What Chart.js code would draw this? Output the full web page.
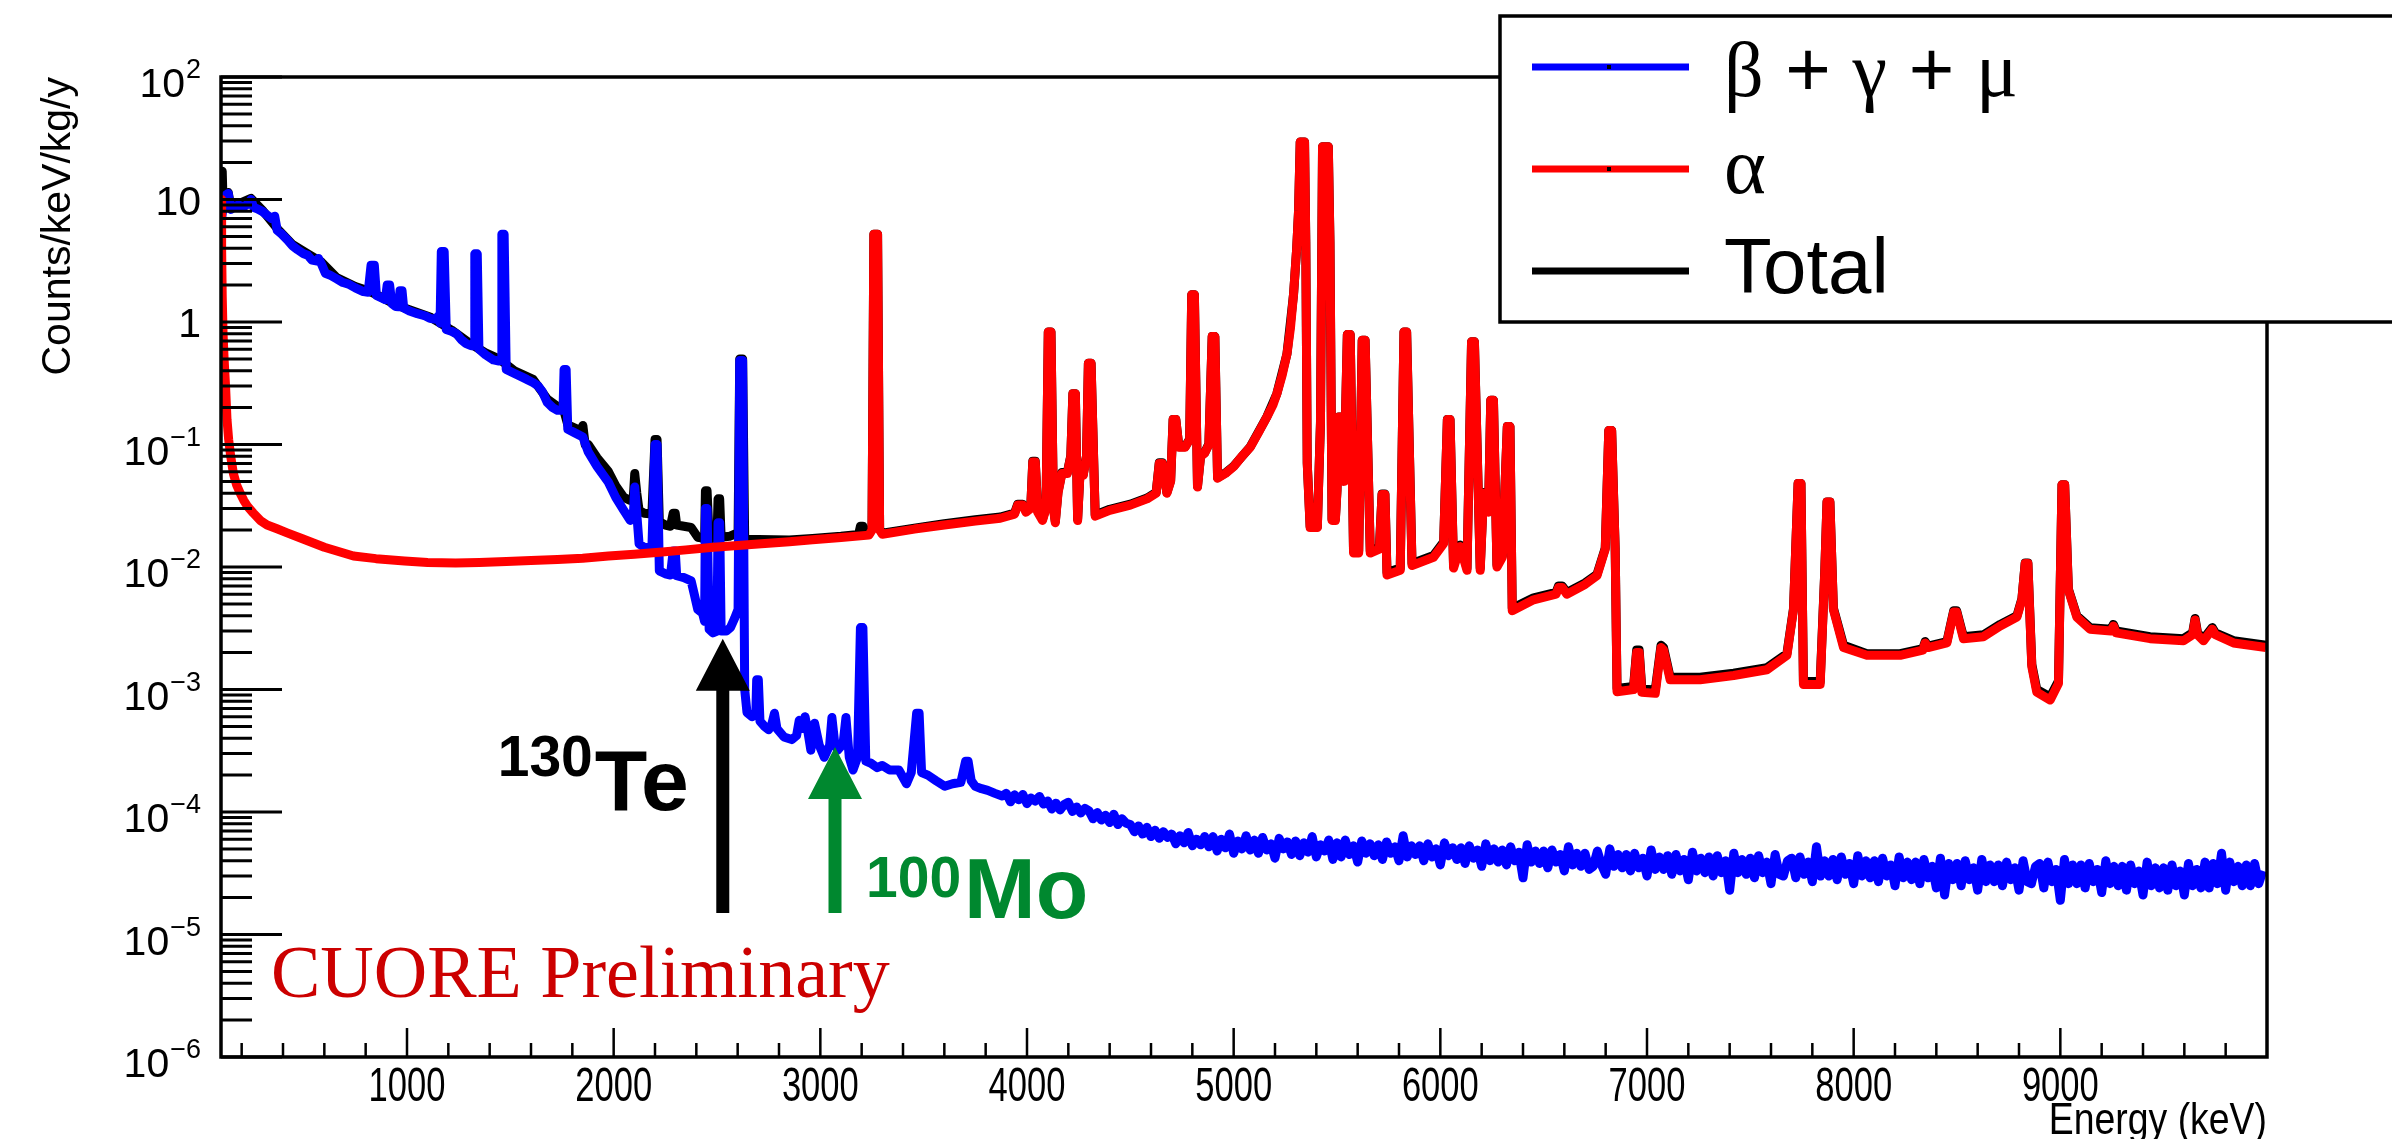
<!DOCTYPE html>
<html>
<head>
<meta charset="utf-8">
<script src="https://cdn.jsdelivr.net/npm/chart.js@4.4.1/dist/chart.umd.min.js"></script>
<style>
  html, body { margin: 0; padding: 0; background: #fff; }
  canvas { display: block; }
</style>
</head>
<body>
<canvas id="spectrum" width="2392" height="1139"></canvas>
<script>
// energy (keV), counts/keV/kg/y
const betaPts = [
  [100, 6.5], [110, 8.5], [122, 10.8], [135, 11.2], [148, 8.3], [165, 8.8], [185, 9.0], [210, 8.7],
  [230, 9.2], [245, 10.0], [258, 8.6], [275, 8.4], [300, 8.0], [325, 7.4], [345, 7.0], [360, 7.3],
  [372, 5.6], [395, 5.2], [420, 4.7], [445, 4.2], [470, 3.9], [500, 3.6], [520, 3.5], [540, 3.2],
  [560, 3.15], [572, 3.3], [585, 3.0], [605, 2.5], [630, 2.4], [660, 2.25], [690, 2.1], [717, 2.04],
  [750, 1.9], [789, 1.77], [812, 1.75], [826, 2.9], [842, 2.9], [852, 1.65], [875, 1.58], [895, 1.52],
  [904, 2.0], [916, 2.0], [926, 1.42], [945, 1.34], [960, 1.33], [966, 1.8], [976, 1.8], [984, 1.3],
  [1012, 1.23], [1050, 1.17], [1090, 1.12], [1111, 1.07], [1140, 1.05], [1152, 1.12], [1160, 0.98],
  [1166, 3.76], [1180, 3.76], [1190, 0.87], [1215, 0.84], [1240, 0.8], [1262, 0.72], [1284, 0.67],
  [1310, 0.64], [1325, 0.64], [1328, 3.6], [1340, 3.6], [1348, 0.6], [1380, 0.54], [1418, 0.49],
  [1445, 0.48], [1455, 0.5], [1459, 5.2], [1470, 5.2], [1480, 0.41], [1520, 0.38], [1550, 0.36],
  [1580, 0.34], [1610, 0.32], [1635, 0.3], [1655, 0.27], [1679, 0.22], [1705, 0.2], [1728, 0.19],
  [1755, 0.19], [1760, 0.41], [1770, 0.41], [1778, 0.133], [1810, 0.125], [1851, 0.115], [1877, 0.087],
  [1920, 0.066], [1975, 0.049], [2010, 0.037], [2049, 0.029], [2080, 0.024], [2095, 0.026], [2102, 0.045],
  [2110, 0.03], [2123, 0.0154], [2148, 0.0145], [2185, 0.0142], [2200, 0.1], [2210, 0.1], [2221, 0.0093],
  [2250, 0.0088], [2275, 0.0086], [2288, 0.0135], [2298, 0.0135], [2305, 0.0085], [2340, 0.0082],
  [2375, 0.0077], [2390, 0.006], [2407, 0.0045], [2430, 0.0042], [2440, 0.0036], [2444, 0.03], [2452, 0.03],
  [2462, 0.0031], [2480, 0.0029], [2500, 0.003], [2505, 0.023], [2513, 0.023], [2520, 0.003], [2545, 0.003],
  [2565, 0.0032], [2585, 0.0038], [2602, 0.0045], [2610, 0.485], [2624, 0.485], [2634, 0.001],
  [2645, 0.00065], [2670, 0.0006], [2688, 0.00065], [2692, 0.0012], [2700, 0.0012], [2708, 0.00055],
  [2730, 0.0005], [2750, 0.00047], [2765, 0.00052], [2778, 0.00064], [2790, 0.00048], [2824, 0.00041],
  [2862, 0.00039], [2885, 0.00042], [2898, 0.00056], [2915, 0.00048], [2926, 0.0006], [2940, 0.00045],
  [2954, 0.00032], [2972, 0.00053], [2995, 0.00035], [3019, 0.00028], [3045, 0.00035], [3056, 0.00059],
  [3070, 0.00036], [3084, 0.00032], [3110, 0.00036], [3124, 0.00059], [3140, 0.00028], [3158, 0.00022],
  [3180, 0.00028], [3194, 0.0032], [3206, 0.0032], [3220, 0.00026], [3245, 0.00025], [3275, 0.00023],
  [3300, 0.00024], [3335, 0.00022], [3380, 0.00022], [3417, 0.00017], [3440, 0.00021], [3466, 0.00064],
  [3478, 0.00064], [3490, 0.00021], [3520, 0.0002], [3560, 0.00018], [3602, 0.000162], [3640, 0.00017],
  [3680, 0.000175], [3703, 0.00026], [3715, 0.00026], [3730, 0.00018], [3750, 0.000162], [3780, 0.000155],
  [3810, 0.00015], [3845, 0.000142], [3880, 0.000135]
];

// high-energy beta/gamma tail, 20 keV bins from 3900 keV
const tailStart = 3900;
const tailStep = 20;
const betaTail = [
  14.2e-5, 12.1e-5, 13.8e-5, 12.6e-5, 13.9e-5, 11.7e-5, 13.0e-5, 12.3e-5, 13.4e-5, 11.6e-5,
  12.3e-5, 10.6e-5, 11.8e-5, 10.4e-5, 11.5e-5, 12.0e-5, 10.1e-5, 11.0e-5, 9.8e-5, 10.7e-5,
  10.2e-5, 8.8e-5, 9.9e-5, 8.6e-5, 9.4e-5, 8.2e-5, 9.6e-5, 7.9e-5, 8.8e-5, 8.1e-5,
  7.9e-5, 6.9e-5, 7.7e-5, 6.6e-5, 7.5e-5, 6.3e-5, 7.1e-5, 6.1e-5, 6.9e-5, 6.2e-5,
  6.6e-5, 5.5e-5, 6.4e-5, 5.6e-5, 6.8e-5, 5.3e-5, 6.0e-5, 5.4e-5, 6.3e-5, 5.2e-5,
  6.3e-5, 4.8e-5, 6.0e-5, 5.1e-5, 6.6e-5, 4.6e-5, 5.8e-5, 5.0e-5, 6.4e-5, 4.9e-5,
  5.9e-5, 4.6e-5, 6.2e-5, 4.9e-5, 5.5e-5, 4.2e-5, 6.1e-5, 5.0e-5, 5.7e-5, 4.5e-5,
  5.8e-5, 4.4e-5, 5.6e-5, 4.7e-5, 6.3e-5, 4.3e-5, 5.4e-5, 4.8e-5, 5.9e-5, 4.1e-5,
  5.6e-5, 4.3e-5, 5.9e-5, 4.5e-5, 5.3e-5, 3.9e-5, 5.8e-5, 4.6e-5, 5.5e-5, 4.4e-5,
  5.4e-5, 4.1e-5, 5.7e-5, 4.6e-5, 5.2e-5, 4.0e-5, 6.4e-5, 4.3e-5, 5.3e-5, 4.5e-5,
  5.3e-5, 4.0e-5, 5.5e-5, 4.3e-5, 5.0e-5, 3.7e-5, 5.6e-5, 4.4e-5, 5.1e-5, 4.1e-5,
  5.1e-5, 3.8e-5, 5.3e-5, 4.2e-5, 4.9e-5, 3.6e-5, 5.5e-5, 4.0e-5, 5.0e-5, 3.9e-5,
  4.9e-5, 3.7e-5, 5.2e-5, 4.0e-5, 4.7e-5, 2.9e-5, 5.4e-5, 3.9e-5, 4.8e-5, 3.8e-5,
  4.8e-5, 3.5e-5, 4.9e-5, 3.9e-5, 4.5e-5, 3.3e-5, 5.2e-5, 3.7e-5, 4.6e-5, 3.6e-5,
  4.6e-5, 3.4e-5, 3.6e-5, 4.8e-5, 3.7e-5, 3.1e-5, 5.0e-5, 3.6e-5, 4.5e-5, 3.5e-5,
  4.5e-5, 3.3e-5, 4.6e-5, 3.5e-5, 4.2e-5, 3.0e-5, 4.9e-5, 3.4e-5, 4.3e-5, 3.4e-5,
  4.4e-5, 3.1e-5, 4.5e-5, 3.3e-5, 4.1e-5, 2.8e-5, 4.7e-5, 3.3e-5, 4.2e-5, 3.2e-5,
  4.3e-5, 3.0e-5, 4.4e-5, 3.2e-5, 4.0e-5, 2.3e-5, 4.6e-5, 3.2e-5, 4.1e-5, 3.1e-5,
  4.2e-5, 2.9e-5, 4.4e-5, 3.2e-5, 3.9e-5, 2.6e-5, 4.5e-5, 3.1e-5, 3.0e-5, 4.0e-5,
  4.2e-5, 2.9e-5, 4.3e-5, 3.1e-5, 3.9e-5, 2.7e-5, 5.2e-5, 3.0e-5, 4.0e-5, 3.0e-5,
  4.1e-5, 2.8e-5, 4.3e-5, 3.1e-5, 3.8e-5, 2.6e-5, 4.4e-5, 3.0e-5, 4.0e-5, 2.9e-5,
  4.0e-5, 2.7e-5, 4.2e-5, 3.0e-5, 3.7e-5, 2.5e-5, 4.3e-5, 2.9e-5, 3.9e-5, 2.8e-5,
  3.9e-5, 2.6e-5, 4.1e-5, 2.9e-5, 3.6e-5, 2.4e-5, 4.2e-5, 2.1e-5, 3.8e-5, 2.8e-5,
  3.8e-5, 2.5e-5, 4.0e-5, 2.8e-5, 3.5e-5, 2.3e-5, 4.1e-5, 2.7e-5, 3.7e-5, 2.7e-5,
  3.7e-5, 2.5e-5, 3.9e-5, 2.8e-5, 3.5e-5, 2.3e-5, 4.0e-5, 2.7e-5, 2.6e-5, 3.6e-5,
  3.8e-5, 2.4e-5, 3.9e-5, 2.7e-5, 3.4e-5, 1.9e-5, 4.1e-5, 2.6e-5, 3.7e-5, 2.6e-5,
  3.7e-5, 2.4e-5, 3.8e-5, 2.7e-5, 3.4e-5, 2.2e-5, 4.0e-5, 2.6e-5, 3.6e-5, 2.5e-5,
  3.6e-5, 2.3e-5, 3.7e-5, 2.6e-5, 3.3e-5, 2.1e-5, 3.9e-5, 2.5e-5, 3.5e-5, 2.4e-5,
  3.5e-5, 2.3e-5, 3.7e-5, 2.5e-5, 3.3e-5, 2.1e-5, 3.8e-5, 2.5e-5, 3.4e-5, 2.4e-5,
  3.9e-5, 2.4e-5, 3.8e-5, 2.6e-5, 4.6e-5, 2.3e-5, 3.9e-5, 2.7e-5, 3.6e-5, 2.5e-5,
  3.7e-5, 2.5e-5, 3.8e-5, 2.6e-5, 3.3e-5
];

const alphaPts = [
  [100, 10], [103, 4], [106, 1.6], [110, 0.8], [115, 0.5], [122, 0.3], [129, 0.16], [137, 0.11],
  [147, 0.08], [160, 0.058], [175, 0.047], [193, 0.04], [210, 0.035], [230, 0.031], [256, 0.0276],
  [290, 0.024], [323, 0.022], [371, 0.0205], [420, 0.019], [494, 0.017], [600, 0.0145], [741, 0.0123],
  [850, 0.0117], [988, 0.0112], [1100, 0.0109], [1235, 0.0108], [1350, 0.0109], [1481, 0.0111],
  [1600, 0.0113], [1728, 0.0115], [1850, 0.0118], [1975, 0.0123], [2100, 0.0127], [2221, 0.0132],
  [2350, 0.0138], [2468, 0.0144], [2600, 0.015], [2715, 0.0155], [2850, 0.0161], [2962, 0.0167],
  [3100, 0.0174], [3235, 0.0182], [3250, 0.02], [3259, 5.2], [3277, 5.2], [3287, 0.02], [3300, 0.0185],
  [3455, 0.0204], [3600, 0.022], [3750, 0.0237], [3871, 0.025], [3940, 0.027], [3955, 0.032], [3980, 0.032],
  [3995, 0.028], [4018, 0.03], [4028, 0.072], [4040, 0.072], [4052, 0.028], [4075, 0.024], [4092, 0.03],
  [4103, 0.83], [4116, 0.83], [4128, 0.03], [4137, 0.023], [4150, 0.04], [4169, 0.058], [4195, 0.058],
  [4212, 0.08], [4222, 0.26], [4234, 0.26], [4245, 0.024], [4256, 0.056], [4272, 0.056], [4288, 0.08],
  [4297, 0.46], [4310, 0.46], [4330, 0.026], [4400, 0.029], [4500, 0.032], [4581, 0.036], [4625, 0.04],
  [4640, 0.07], [4655, 0.07], [4677, 0.04], [4695, 0.05], [4707, 0.16], [4720, 0.16], [4735, 0.095],
  [4765, 0.095], [4787, 0.11], [4797, 1.67], [4810, 1.67], [4825, 0.045], [4840, 0.08], [4860, 0.085],
  [4880, 0.1], [4896, 0.76], [4909, 0.76], [4922, 0.053], [4960, 0.058], [5000, 0.066], [5040, 0.08],
  [5080, 0.095], [5120, 0.125], [5161, 0.168], [5190, 0.21], [5209, 0.26], [5235, 0.37], [5258, 0.55],
  [5275, 0.9], [5290, 1.7], [5305, 4], [5314, 8.1], [5322, 29.5], [5343, 29.5], [5349, 4.5], [5356, 0.07],
  [5370, 0.021], [5405, 0.021], [5420, 0.15], [5430, 27], [5458, 27], [5466, 4.4], [5476, 0.024],
  [5492, 0.024], [5500, 0.042], [5508, 0.168], [5524, 0.168], [5534, 0.05], [5550, 0.79], [5564, 0.79],
  [5580, 0.013], [5605, 0.013], [5622, 0.71], [5636, 0.71], [5661, 0.013], [5705, 0.014], [5718, 0.039],
  [5732, 0.039], [5742, 0.0086], [5806, 0.0094], [5824, 0.83], [5837, 0.83], [5863, 0.0103], [5967, 0.012],
  [6016, 0.0155], [6034, 0.16], [6047, 0.16], [6064, 0.0098], [6096, 0.0147], [6129, 0.0094], [6151, 0.69],
  [6165, 0.69], [6193, 0.0094], [6209, 0.04], [6233, 0.028], [6244, 0.23], [6257, 0.23], [6274, 0.01],
  [6300, 0.012], [6324, 0.14], [6337, 0.14], [6348, 0.0044], [6451, 0.0054], [6560, 0.006], [6572, 0.0068],
  [6590, 0.0068], [6612, 0.006], [6700, 0.0072], [6758, 0.0085], [6798, 0.014], [6815, 0.13], [6829, 0.13],
  [6846, 0.014], [6855, 0.00096], [6935, 0.001], [6950, 0.002], [6962, 0.002], [6975, 0.00095],
  [7040, 0.00093], [7068, 0.0022], [7080, 0.0021], [7112, 0.0012], [7257, 0.0012], [7419, 0.0013],
  [7580, 0.00145], [7677, 0.0019], [7709, 0.0045], [7731, 0.048], [7745, 0.048], [7757, 0.0011],
  [7838, 0.0011], [7860, 0.009], [7871, 0.034], [7885, 0.034], [7902, 0.0045], [7951, 0.0022],
  [8064, 0.0019], [8225, 0.0019], [8335, 0.0021], [8346, 0.0024], [8360, 0.0022], [8451, 0.0024],
  [8484, 0.0043], [8498, 0.0043], [8531, 0.0026], [8628, 0.0027], [8709, 0.0033], [8790, 0.0039],
  [8814, 0.0054], [8830, 0.0107], [8843, 0.0107], [8862, 0.00154], [8886, 0.00095], [8951, 0.00082],
  [8991, 0.00112], [9008, 0.047], [9021, 0.047], [9039, 0.0065], [9080, 0.0039], [9144, 0.0031],
  [9245, 0.003], [9257, 0.0033], [9270, 0.0029], [9434, 0.0026], [9596, 0.0025], [9640, 0.0028],
  [9652, 0.0037], [9664, 0.0028], [9693, 0.0025], [9735, 0.0031], [9750, 0.0028], [9838, 0.0024],
  [9995, 0.0022]
];

const totalPts = [
  [100, 17], [106, 17], [110, 9.5], [122, 11], [135, 11.4], [148, 8.6], [185, 9.2], [245, 10.2],
  [300, 8.2], [372, 5.8], [445, 4.3], [520, 3.6], [585, 3.1], [660, 2.3], [750, 1.95], [812, 1.8],
  [875, 1.6], [945, 1.38], [1012, 1.26], [1111, 1.1], [1215, 0.86], [1310, 0.66], [1380, 0.56],
  [1445, 0.5], [1520, 0.4], [1610, 0.34], [1679, 0.235], [1728, 0.205], [1755, 0.2], [1778, 0.145],
  [1810, 0.137], [1840, 0.13], [1851, 0.143], [1862, 0.1], [1877, 0.1], [1920, 0.078], [1975, 0.06],
  [2010, 0.046], [2049, 0.037], [2080, 0.035], [2095, 0.037], [2102, 0.058], [2112, 0.04], [2123, 0.029],
  [2148, 0.0275], [2185, 0.027], [2200, 0.11], [2210, 0.11], [2221, 0.0234], [2250, 0.022], [2275, 0.0215],
  [2288, 0.0275], [2298, 0.0275], [2305, 0.022], [2340, 0.0215], [2375, 0.021], [2407, 0.0175],
  [2430, 0.0172], [2440, 0.0165], [2444, 0.042], [2452, 0.042], [2462, 0.017], [2500, 0.0173],
  [2505, 0.036], [2513, 0.036], [2520, 0.0175], [2560, 0.0178], [2585, 0.0185], [2602, 0.019],
  [2610, 0.5], [2624, 0.5], [2634, 0.0168], [2700, 0.0168], [2850, 0.0166], [2962, 0.0171], [3100, 0.0178],
  [3185, 0.0184], [3194, 0.0215], [3206, 0.0215], [3218, 0.0185], [3235, 0.0186], [3250, 0.0204],
  [3259, 5.2], [3277, 5.2], [3287, 0.0204], [3300, 0.0189], [3455, 0.0207], [3600, 0.0226], [3750, 0.0243],
  [3871, 0.0256], [3940, 0.0276], [3955, 0.0325], [3980, 0.0325], [3995, 0.0287], [4018, 0.0306],
  [4028, 0.073], [4040, 0.073], [4052, 0.0287], [4075, 0.0246], [4092, 0.0306], [4103, 0.83], [4116, 0.83],
  [4128, 0.0306], [4137, 0.0236], [4150, 0.041], [4169, 0.059], [4195, 0.059], [4212, 0.081], [4222, 0.26],
  [4234, 0.26], [4245, 0.0246], [4256, 0.057], [4272, 0.057], [4288, 0.081], [4297, 0.46], [4310, 0.46],
  [4330, 0.0266], [4400, 0.0296], [4500, 0.0326], [4581, 0.0366], [4625, 0.0406], [4640, 0.071],
  [4655, 0.071], [4677, 0.0406], [4695, 0.0506], [4707, 0.16], [4720, 0.16], [4735, 0.096], [4765, 0.096],
  [4787, 0.111], [4797, 1.67], [4810, 1.67], [4825, 0.0456], [4840, 0.081], [4860, 0.086], [4880, 0.101],
  [4896, 0.76], [4909, 0.76], [4922, 0.0536], [4960, 0.0586], [5000, 0.0666], [5080, 0.0956], [5161, 0.169],
  [5209, 0.26], [5258, 0.55], [5290, 1.7], [5305, 4], [5314, 8.1], [5322, 29.5], [5343, 29.5], [5349, 4.5],
  [5356, 0.0705], [5370, 0.0215], [5405, 0.0215], [5420, 0.15], [5430, 27], [5458, 27], [5466, 4.4],
  [5476, 0.0245], [5492, 0.0245], [5500, 0.0425], [5508, 0.168], [5524, 0.168], [5534, 0.0505],
  [5550, 0.79], [5564, 0.79], [5580, 0.0135], [5605, 0.0135], [5622, 0.71], [5636, 0.71], [5661, 0.0135],
  [5705, 0.0145], [5718, 0.0395], [5732, 0.0395], [5742, 0.009], [5806, 0.0098], [5824, 0.83], [5837, 0.83],
  [5863, 0.0107], [5967, 0.0124], [6016, 0.016], [6034, 0.16], [6047, 0.16], [6064, 0.0102], [6096, 0.0151],
  [6129, 0.0098], [6151, 0.69], [6165, 0.69], [6193, 0.0098], [6209, 0.0405], [6233, 0.0285], [6244, 0.23],
  [6257, 0.23], [6274, 0.0104], [6300, 0.0124], [6324, 0.14], [6337, 0.14], [6348, 0.0046], [6451, 0.0056],
  [6560, 0.0062], [6572, 0.007], [6590, 0.007], [6612, 0.0062], [6700, 0.0074], [6758, 0.0087],
  [6798, 0.0143], [6815, 0.13], [6829, 0.13], [6846, 0.0143], [6855, 0.00102], [6935, 0.00106],
  [6950, 0.0021], [6962, 0.0021], [6975, 0.00101], [7040, 0.00099], [7068, 0.0023], [7080, 0.0022],
  [7112, 0.00126], [7257, 0.00126], [7419, 0.00136], [7580, 0.00151], [7677, 0.00196], [7709, 0.0046],
  [7731, 0.048], [7745, 0.048], [7757, 0.00116], [7838, 0.00116], [7860, 0.0091], [7871, 0.034],
  [7885, 0.034], [7902, 0.0046], [7951, 0.0023], [8064, 0.00196], [8225, 0.00196], [8335, 0.00216],
  [8346, 0.00246], [8360, 0.00226], [8451, 0.00246], [8484, 0.0044], [8498, 0.0044], [8531, 0.0027],
  [8628, 0.0028], [8709, 0.0034], [8790, 0.004], [8814, 0.0055], [8830, 0.0108], [8843, 0.0108],
  [8862, 0.0016], [8886, 0.001], [8951, 0.00087], [8991, 0.00117], [9008, 0.047], [9021, 0.047],
  [9039, 0.0066], [9080, 0.004], [9144, 0.0032], [9245, 0.0031], [9257, 0.0034], [9270, 0.003],
  [9434, 0.0027], [9596, 0.0026], [9640, 0.0029], [9652, 0.0038], [9664, 0.0029], [9693, 0.0026],
  [9735, 0.0032], [9750, 0.0029], [9838, 0.0025], [9995, 0.0023]
];

const xMajorTicks = [1000, 2000, 3000, 4000, 5000, 6000, 7000, 8000, 9000];
const yDecades = [-6, -5, -4, -3, -2, -1, 0, 1, 2];

// Q-value arrows: energy, tip and foot of the arrow (in counts/keV/kg/y)
const arrowE = [2528, 3071];
const arrowTip = [2.6e-3, 3.4e-4];
const arrowFoot = [1.5e-5, 1.5e-5];
const arrowColor = ['#000000', '#00882f'];

const toPoints = pts => pts.map(p => ({ x: p[0], y: p[1] }));
const betaData = toPoints(betaPts).concat(betaTail.map((v, i) => ({ x: tailStart + i * tailStep, y: v })));

const lineStyle = {
  borderWidth: 9,
  pointRadius: 0,
  tension: 0,
  fill: false,
  borderJoinStyle: 'round',
  clip: 0
};

const sans = '"Liberation Sans", Arial, Helvetica, sans-serif';
const serif = '"Liberation Serif", "Times New Roman", serif';

const rootStyle = {
  id: 'rootStyle',
  afterDatasetsDraw(chart) {
    const { ctx, chartArea: a, scales: { x, y } } = chart;
    ctx.save();

    // arrows
    arrowE.forEach((e, i) => {
      const px = x.getPixelForValue(e);
      const tip = y.getPixelForValue(arrowTip[i]);
      const foot = y.getPixelForValue(arrowFoot[i]);
      const head = 52, hw = 27, sw = 6.5;
      ctx.fillStyle = arrowColor[i];
      ctx.beginPath();
      ctx.moveTo(px, tip);
      ctx.lineTo(px + hw, tip + head);
      ctx.lineTo(px + sw, tip + head);
      ctx.lineTo(px + sw, foot);
      ctx.lineTo(px - sw, foot);
      ctx.lineTo(px - sw, tip + head);
      ctx.lineTo(px - hw, tip + head);
      ctx.closePath();
      ctx.fill();
    });

    // isotope labels
    const teX = x.getPixelForValue(arrowE[0]) - 34;
    ctx.fillStyle = '#000';
    ctx.textAlign = 'right';
    ctx.font = 'bold 86px ' + sans;
    const teW = ctx.measureText('Te').width;
    ctx.fillText('Te', teX, 810);
    ctx.font = 'bold 57px ' + sans;
    ctx.fillText('130', teX - teW - 2, 776);

    const moX = x.getPixelForValue(arrowE[1]) + 31;
    ctx.fillStyle = '#00882f';
    ctx.textAlign = 'left';
    ctx.font = 'bold 57px ' + sans;
    const w100 = ctx.measureText('100').width;
    ctx.fillText('100', moX, 897);
    ctx.font = 'bold 86px ' + sans;
    ctx.fillText('Mo', moX + w100 + 3, 918);

    ctx.fillStyle = '#cc0000';
    ctx.font = '74px ' + serif;
    ctx.fillText('CUORE Preliminary', a.left + 50, 997);

    // frame
    ctx.strokeStyle = '#000';
    ctx.lineWidth = 3.5;
    ctx.strokeRect(a.left, a.top, a.right - a.left, a.bottom - a.top);

    // x ticks (inside)
    ctx.lineWidth = 2.5;
    ctx.beginPath();
    for (let v = 200; v < 10000; v += 200) {
      const px = x.getPixelForValue(v);
      const len = v % 1000 === 0 ? 29 : 14;
      ctx.moveTo(px, a.bottom);
      ctx.lineTo(px, a.bottom - len);
    }
    ctx.stroke();

    // y ticks (inside)
    ctx.lineWidth = 3;
    ctx.beginPath();
    yDecades.forEach(k => {
      for (let m = 1; m <= 9; m++) {
        const v = m * Math.pow(10, k);
        if (v > 100.0001) break;
        const py = y.getPixelForValue(v);
        ctx.moveTo(a.left, py);
        ctx.lineTo(a.left + (m === 1 ? 61 : 31), py);
      }
    });
    ctx.stroke();

    // x labels (condensed, as in the original)
    ctx.fillStyle = '#000';
    ctx.textAlign = 'center';
    ctx.font = '48px ' + sans;
    xMajorTicks.forEach(v => {
      ctx.save();
      ctx.translate(x.getPixelForValue(v), 1101);
      ctx.scale(0.72, 1);
      ctx.fillText(String(v), 0, 0);
      ctx.restore();
    });
    ctx.save();
    ctx.translate(a.right, 1134);
    ctx.scale(0.85, 1);
    ctx.textAlign = 'right';
    ctx.font = '44px ' + sans;
    ctx.fillText('Energy (keV)', 0, 0);
    ctx.restore();

    // y labels
    const labelRight = a.left - 20;
    yDecades.forEach(k => {
      const py = y.getPixelForValue(Math.pow(10, k));
      ctx.textAlign = 'right';
      if (k === 0 || k === 1) {
        ctx.font = '41px ' + sans;
        ctx.fillText(k === 1 ? '10' : '1', labelRight, py + 15);
        return;
      }
      const sup = (k < 0 ? '\u2212' : '') + Math.abs(k);
      ctx.font = '27px ' + sans;
      const ws = ctx.measureText(sup).width;
      ctx.fillText(sup, labelRight, py + 1);
      ctx.font = '41px ' + sans;
      ctx.fillText('10', labelRight - ws - 1, py + 20);
    });

    ctx.save();
    ctx.translate(70, a.top);
    ctx.rotate(-Math.PI / 2);
    ctx.textAlign = 'right';
    ctx.font = '41px ' + sans;
    ctx.fillText('Counts/keV/kg/y', 0, 0);
    ctx.restore();

    // legend box
    ctx.fillStyle = '#fff';
    ctx.fillRect(1500, 16, 1000, 306);
    ctx.lineWidth = 3.5;
    ctx.strokeRect(1500, 16, 1000, 306);

    const rows = [67, 169, 271];
    chart.data.datasets.forEach((ds, i) => {
      const ly = rows[i];
      ctx.strokeStyle = ds.borderColor;
      ctx.lineWidth = 7;
      ctx.beginPath();
      ctx.moveTo(1532, ly);
      ctx.lineTo(1689, ly);
      ctx.stroke();
      ctx.fillStyle = '#000';
      ctx.fillRect(1607, ly - 2, 4, 4);
    });

    ctx.fillStyle = '#000';
    ctx.textAlign = 'left';
    let tx = 1724;
    const parts = [['\u03b2', serif], [' + ', sans], ['\u03b3', serif], [' + ', sans], ['\u03bc', serif]];
    parts.forEach(p => {
      ctx.font = '78px ' + p[1];
      ctx.fillText(p[0], tx, 96);
      tx += ctx.measureText(p[0]).width;
    });
    ctx.font = '80px ' + serif;
    ctx.fillText('\u03b1', 1724, 193);
    ctx.font = '78px ' + sans;
    ctx.fillText('Total', 1724, 293);

    ctx.restore();
  }
};

new Chart(document.getElementById('spectrum'), {
  type: 'line',
  data: {
    datasets: [
      Object.assign({ label: '\u03b2 + \u03b3 + \u03bc', data: betaData, borderColor: '#0000ff', order: 1 }, lineStyle),
      Object.assign({ label: '\u03b1', data: toPoints(alphaPts), borderColor: '#ff0000', order: 0 }, lineStyle),
      Object.assign({ label: 'Total', data: toPoints(totalPts), borderColor: '#000000', order: 2 }, lineStyle)
    ]
  },
  options: {
    responsive: false,
    devicePixelRatio: 1,
    animation: false,
    events: [],
    layout: { padding: { left: 221, right: 125, top: 77, bottom: 82 } },
    scales: {
      x: { type: 'linear', min: 100, max: 10000, display: false },
      y: { type: 'logarithmic', min: 1e-6, max: 100, display: false }
    },
    plugins: {
      legend: { display: false },
      tooltip: { enabled: false }
    }
  },
  plugins: [rootStyle]
});
</script>
</body>
</html>
